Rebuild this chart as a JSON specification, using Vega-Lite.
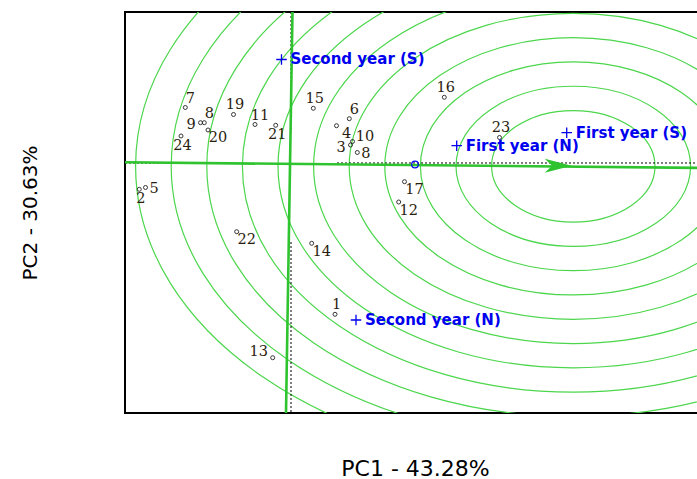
{
  "$schema": "https://vega.github.io/schema/vega-lite/v6.json",
  "autosize": {"type": "none"},
  "padding": {"left": 125, "top": 12, "right": 0, "bottom": 66},
  "width": 580,
  "height": 401,
  "background": "white",
  "config": {
    "view": {"stroke": "black", "strokeWidth": 2},
    "axis": {"grid": false, "labels": false, "ticks": false, "domain": false, "titleFont": "DejaVu Sans", "titleFontWeight": "normal", "titleColor": "#000000"}
  },
  "datasets": {
    "rings": [
      {"x": 5.646, "y": -0.097, "r": 1.634},
      {"x": 5.646, "y": -0.097, "r": 2.346},
      {"x": 5.646, "y": -0.097, "r": 3.058},
      {"x": 5.646, "y": -0.097, "r": 3.770},
      {"x": 5.646, "y": -0.097, "r": 4.482},
      {"x": 5.646, "y": -0.097, "r": 5.194},
      {"x": 5.646, "y": -0.097, "r": 5.906},
      {"x": 5.646, "y": -0.097, "r": 6.618},
      {"x": 5.646, "y": -0.097, "r": 7.330},
      {"x": 5.646, "y": -0.097, "r": 8.042},
      {"x": 5.646, "y": -0.097, "r": 8.754}
    ],
    "dots": [
      {"x": -3.32, "y": 0, "x2": -2.12, "y2": 0},
      {"x": 0.92, "y": 0, "x2": 8.28, "y2": 0},
      {"x": 0, "y": 4.424, "x2": 0, "y2": 0.879},
      {"x": 0, "y": -2.315, "x2": 0, "y2": -7.325}
    ],
    "axes": [
      {"x": -3.32, "y": 0.02, "x2": 8.28, "y2": -0.146},
      {"x": 0.03, "y": 4.424, "x2": -0.10, "y2": -7.325}
    ],
    "arrow": [{"x": 5.344, "y": -0.079}],
    "env": [
      {"label": "Second year (S)", "x": -0.19, "y": 3.033},
      {"label": "First year (S)", "x": 5.514, "y": 0.888},
      {"label": "First year (N)", "x": 3.314, "y": 0.507},
      {"label": "Second year (N)", "x": 1.30, "y": -4.60}
    ],
    "origin": [{"x": 2.48, "y": -0.044}],
    "geno": [
      {"id": 1, "label": "1", "x": 0.88, "y": -4.433},
      {"id": 2, "label": "2", "x": -3.034, "y": -0.771},
      {"id": 3, "label": "3", "x": 1.19, "y": 0.527},
      {"id": 4, "label": "4", "x": 0.91, "y": 1.093},
      {"id": 5, "label": "5", "x": -2.91, "y": -0.718},
      {"id": 6, "label": "6", "x": 1.166, "y": 1.298},
      {"id": 7, "label": "7", "x": -2.114, "y": 1.626},
      {"id": 8, "label": "8", "x": -1.734, "y": 1.181},
      {"id": 9, "label": "9", "x": -1.81, "y": 1.181},
      {"id": 10, "label": "10", "x": 1.23, "y": 0.63},
      {"id": 11, "label": "11", "x": -0.72, "y": 1.128},
      {"id": 12, "label": "12", "x": 2.154, "y": -1.143},
      {"id": 13, "label": "13", "x": -0.366, "y": -5.705},
      {"id": 14, "label": "14", "x": 0.414, "y": -2.353},
      {"id": 15, "label": "15", "x": 0.446, "y": 1.603},
      {"id": 16, "label": "16", "x": 3.066, "y": 1.925},
      {"id": 17, "label": "17", "x": 2.27, "y": -0.548},
      {"id": 18, "label": "8", "x": 1.326, "y": 0.308},
      {"id": 19, "label": "19", "x": -1.15, "y": 1.421},
      {"id": 20, "label": "20", "x": -1.66, "y": 0.967},
      {"id": 21, "label": "21", "x": -0.306, "y": 1.105},
      {"id": 22, "label": "22", "x": -1.086, "y": -2.013},
      {"id": 23, "label": "23", "x": 4.17, "y": 0.747},
      {"id": 24, "label": "24", "x": -2.2, "y": 0.791}
    ]
  },
  "encoding": {
    "x": {"field": "x", "type": "quantitative", "scale": {"domain": [-3.32, 8.28], "nice": false, "zero": false},
          "axis": {"title": "PC1 - 43.28%", "titleFontSize": 22, "titleY": 55, "titleBaseline": "middle"}},
    "y": {"field": "y", "type": "quantitative", "scale": {"domain": [-7.325, 4.424], "nice": false, "zero": false},
          "axis": {"title": "PC2 - 30.63%", "titleFontSize": 20, "titleX": -95, "titleY": 200.5, "titleAngle": -90, "titleAlign": "center", "titleBaseline": "middle"}}
  },
  "layer": [
    {
      "data": {"name": "rings"},
      "mark": {"type": "point", "clip": true, "filled": false, "opacity": 1, "stroke": "#4cd64c", "strokeWidth": 1.2,
               "shape": "M1,0 C1,0.377 0.5523,0.6826 0,0.6826 C-0.5523,0.6826 -1,0.377 -1,0 C-1,-0.377 -0.5523,-0.6826 0,-0.6826 C0.5523,-0.6826 1,-0.377 1,0 Z"},
      "encoding": {
        "size": {"field": "r", "type": "quantitative", "scale": {"type": "pow", "exponent": 2, "domain": [0, 10], "range": [0, 1000000]}, "legend": null}
      }
    },
    {
      "data": {"name": "dots"},
      "mark": {"type": "rule", "clip": true, "color": "#000000", "strokeWidth": 1, "strokeDash": [2, 2]},
      "encoding": {"x2": {"field": "x2"}, "y2": {"field": "y2"}}
    },
    {
      "data": {"name": "axes"},
      "mark": {"type": "rule", "clip": true, "color": "#2fc42f", "strokeWidth": 2.6},
      "encoding": {"x2": {"field": "x2"}, "y2": {"field": "y2"}}
    },
    {
      "data": {"name": "arrow"},
      "mark": {"type": "point", "filled": true, "opacity": 1, "color": "#2fc42f", "size": 729,
               "shape": "M1,0 L-1,-0.52 L-0.45,0 L-1,0.52 Z"},
      "encoding": {}
    },
    {
      "data": {"name": "geno"},
      "mark": {"type": "point", "filled": false, "opacity": 1, "stroke": "#222222", "strokeWidth": 0.9, "size": 16, "shape": "circle"},
      "encoding": {}
    },
    {
      "data": {"name": "geno"},
      "transform": [{"filter": {"field": "id", "oneOf": [1, 15, 16, 19, 23]}}],
      "mark": {"type": "text", "font": "DejaVu Serif", "fontSize": 14.5, "color": "#2b1d0e", "align": "center", "baseline": "middle", "dx": 1.5, "dy": -9},
      "encoding": {"text": {"field": "label"}}
    },
    {
      "data": {"name": "geno"},
      "transform": [{"filter": {"field": "id", "oneOf": [6, 7, 8, 11]}}],
      "mark": {"type": "text", "font": "DejaVu Serif", "fontSize": 14.5, "color": "#2b1d0e", "align": "center", "baseline": "middle", "dx": 5, "dy": -8.5},
      "encoding": {"text": {"field": "label"}}
    },
    {
      "data": {"name": "geno"},
      "transform": [{"filter": {"field": "id", "oneOf": [4, 12, 14, 17, 20, 22]}}],
      "mark": {"type": "text", "font": "DejaVu Serif", "fontSize": 14.5, "color": "#2b1d0e", "align": "center", "baseline": "middle", "dx": 10, "dy": 8.5},
      "encoding": {"text": {"field": "label"}}
    },
    {
      "data": {"name": "geno"},
      "transform": [{"filter": {"field": "id", "oneOf": [2, 21, 24]}}],
      "mark": {"type": "text", "font": "DejaVu Serif", "fontSize": 14.5, "color": "#2b1d0e", "align": "center", "baseline": "middle", "dx": 1.5, "dy": 10},
      "encoding": {"text": {"field": "label"}}
    },
    {
      "data": {"name": "geno"},
      "transform": [{"filter": {"field": "id", "oneOf": [5, 18]}}],
      "mark": {"type": "text", "font": "DejaVu Serif", "fontSize": 14.5, "color": "#2b1d0e", "align": "center", "baseline": "middle", "dx": 8.5, "dy": 1.5},
      "encoding": {"text": {"field": "label"}}
    },
    {
      "data": {"name": "geno"},
      "transform": [{"filter": {"field": "id", "oneOf": [3, 9]}}],
      "mark": {"type": "text", "font": "DejaVu Serif", "fontSize": 14.5, "color": "#2b1d0e", "align": "center", "baseline": "middle", "dx": -9.5, "dy": 2.5},
      "encoding": {"text": {"field": "label"}}
    },
    {
      "data": {"name": "geno"},
      "transform": [{"filter": {"field": "id", "oneOf": [10]}}],
      "mark": {"type": "text", "font": "DejaVu Serif", "fontSize": 14.5, "color": "#2b1d0e", "align": "center", "baseline": "middle", "dx": 12.5, "dy": -4},
      "encoding": {"text": {"field": "label"}}
    },
    {
      "data": {"name": "geno"},
      "transform": [{"filter": {"field": "id", "oneOf": [13]}}],
      "mark": {"type": "text", "font": "DejaVu Serif", "fontSize": 14.5, "color": "#2b1d0e", "align": "center", "baseline": "middle", "dx": -14, "dy": -6},
      "encoding": {"text": {"field": "label"}}
    },
    {
      "data": {"name": "env"},
      "mark": {"type": "point", "filled": false, "opacity": 1, "stroke": "#0000ee", "strokeWidth": 1.3, "size": 110, "shape": "M-1,0 L1,0 M0,-1 L0,1"},
      "encoding": {}
    },
    {
      "data": {"name": "env"},
      "mark": {"type": "text", "font": "DejaVu Sans", "fontSize": 15, "fontWeight": "bold", "color": "#0000ee", "align": "left", "baseline": "middle", "dx": 9, "dy": 0},
      "encoding": {"text": {"field": "label"}}
    },
    {
      "data": {"name": "origin"},
      "mark": {"type": "point", "filled": false, "opacity": 1, "stroke": "#0000ee", "strokeWidth": 1.2, "size": 45, "shape": "circle"},
      "encoding": {}
    }
  ]
}
